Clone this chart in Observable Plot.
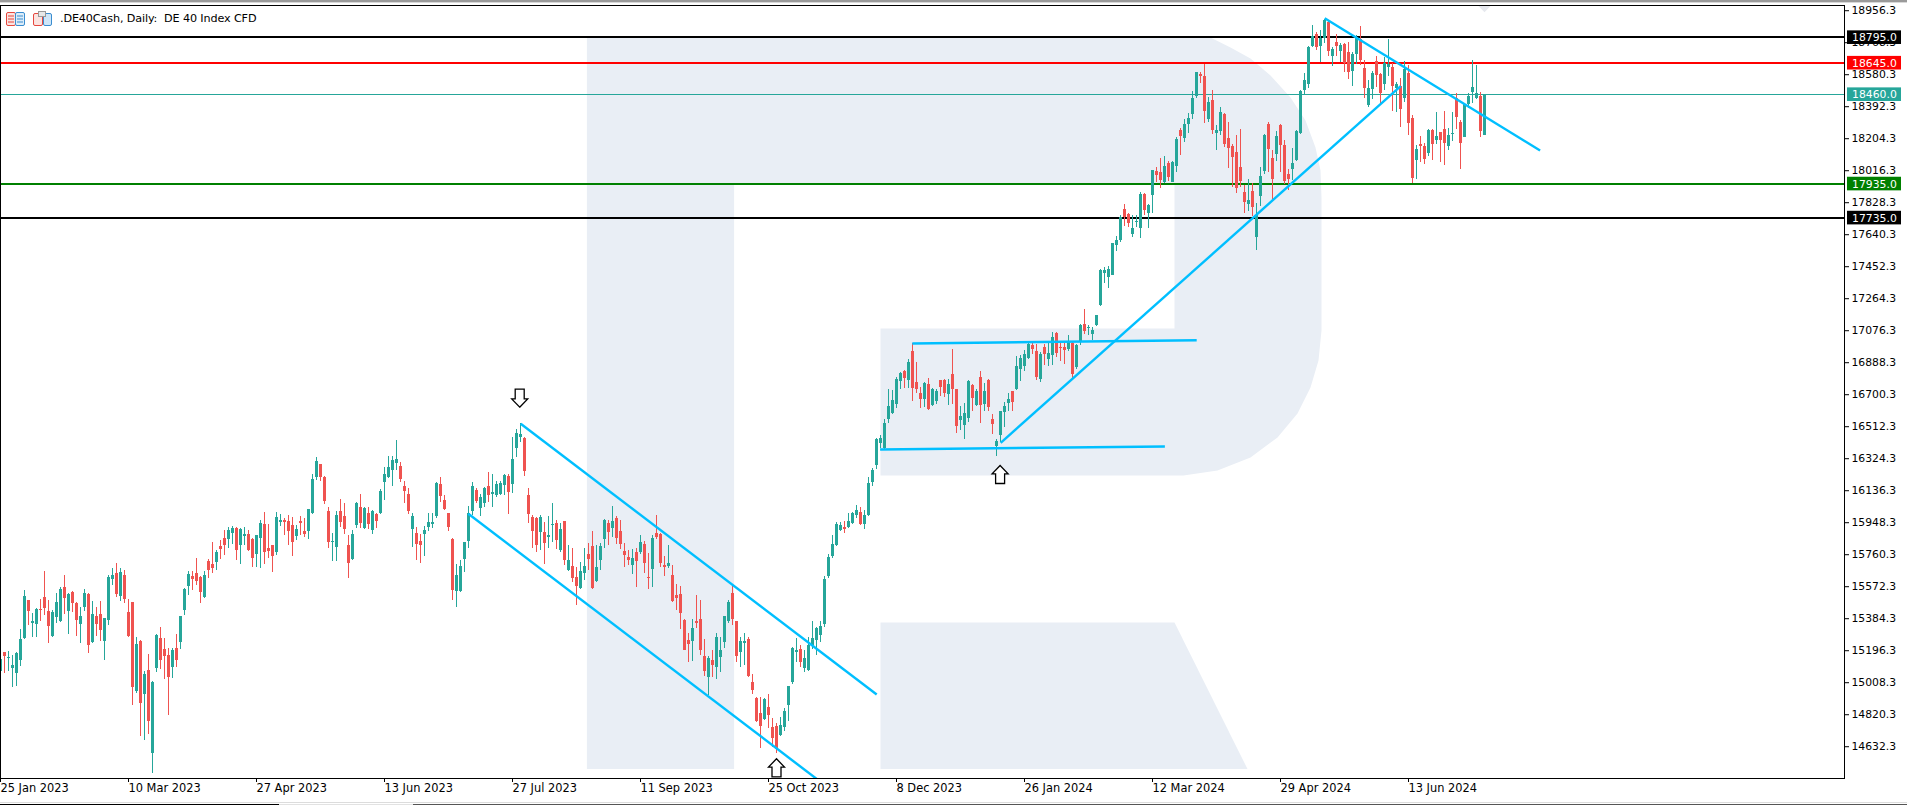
<!DOCTYPE html>
<html><head><meta charset="utf-8">
<script src="https://cdn.jsdelivr.net/npm/d3@7"></script>
<script src="https://cdn.jsdelivr.net/npm/@observablehq/plot@0.6"></script>
<style>
html,body{margin:0;padding:0;background:#fff;width:1907px;height:805px;overflow:hidden}
#chart{position:absolute;left:0;top:0}
svg{display:block}
.abs{position:absolute}
#title{left:60px;top:12px;font:11.2px "DejaVu Sans",sans-serif;color:#000;white-space:pre;line-height:14px;letter-spacing:-.13px}
</style></head><body>
<div id="chart"></div>
<div class="abs" style="left:0;top:0;width:1907px;height:2px;background:#9a9a9a"></div>
<div class="abs" style="left:0;top:2px;width:1907px;height:1px;background:#d8d8d8"></div>
<div class="abs" style="left:0;top:802px;width:1907px;height:1px;background:#dcdcdc"></div>
<div class="abs" style="left:0;top:804px;width:279px;height:1px;background:#000"></div>
<div class="abs" style="left:279px;top:804px;width:134px;height:1px;background:#e2e2e2"></div>
<div class="abs" style="left:413px;top:804px;width:1494px;height:1px;background:#555"></div>
<svg class="abs" style="left:0;top:0" width="60" height="30">
  <rect x="6.5" y="12.5" width="9" height="13" rx="1.5" fill="#fbe3e0" stroke="#e5483f"/>
  <rect x="15.5" y="12.5" width="9" height="13" rx="1.5" fill="#dcecf8" stroke="#3a8dd0"/>
  <path d="M8 16h6M8 19h6M8 22h6" stroke="#e5483f"/><path d="M17 16h6M17 19h6M17 22h6" stroke="#3a8dd0"/>
  <rect x="33.5" y="13.5" width="9" height="12" rx="1.5" fill="#fbe3e0" stroke="#e5483f"/>
  <rect x="43.5" y="13.5" width="8" height="12" rx="1.5" fill="#cfe6f8" stroke="#3a8dd0"/>
  <rect x="38.5" y="11.5" width="7" height="5" fill="#e8e8e8" stroke="#999"/>
</svg>
<div id="title" class="abs">.DE40Cash, Daily:  DE 40 Index CFD</div>
<script>
const high=[15142,15185,15189,15165,15181,15318,15547,15488,15410,15441,15494,15659,15488,15429,15529,15565,15635,15529,15541,15476,15447,15553,15529,15482,15447,15482,15382,15635,15674,15706,15676,15664,15494,15476,15271,15253,15071,15171,15012,15288,15330,15265,15206,15206,15288,15394,15559,15659,15659,15735,15629,15659,15729,15829,15782,15841,15899,15917,15923,15917,15911,15917,15899,15852,15870,15958,16005,15935,15811,16005,15993,15970,15988,15976,15929,15982,15970,16023,16228,16328,16287,16217,16034,15881,16011,16081,16058,15870,15899,16064,16111,16034,16034,16017,15999,16140,16269,16334,16334,16428,16299,16187,16146,15999,15917,15876,15923,15999,15999,16181,16211,16105,15999,15852,15700,15723,15829,16040,16181,16146,16111,16152,16240,16228,16187,16188,16229,16229,16444,16493,16526,16444,16147,15988,15976,15988,15947,15982,16059,15959,15941,15953,15812,15794,15683,15712,15794,15824,15894,15812,15822,15965,15959,16041,15982,15959,15824,15782,15788,15794,15871,15835,15765,15871,15988,15882,15747,15812,15694,15583,15571,15377,15295,15377,15518,15489,15260,15160,15195,15295,15271,15395,15489,15571,15365,15271,15295,15271,15054,14919,14919,14913,14937,14796,14766,14801,14854,14984,15213,15266,15224,15195,15271,15365,15330,15365,15630,15759,15871,15947,15947,15953,15999,16006,16047,16035,16017,16211,16264,16440,16458,16552,16728,16722,16799,16828,16840,16905,16999,16887,16740,16769,16793,16734,16728,16781,16787,16787,16963,16728,16628,16646,16781,16758,16728,16834,16764,16787,16581,16435,16599,16652,16705,16717,16922,16928,16957,17010,17004,16993,16946,16993,17004,17063,17063,17010,16999,17046,17004,16993,17110,17198,17104,17092,17163,17433,17445,17451,17586,17627,17750,17815,17762,17750,17750,17885,17879,17815,18014,18032,18085,18096,18067,18067,18208,18261,18314,18349,18478,18590,18590,18637,18443,18484,18279,18384,18349,18296,18167,18220,18255,17926,17961,17938,17820,18032,18226,18296,18132,18244,18285,18191,18020,18144,18249,18484,18584,18743,18866,18825,18837,18901,18896,18737,18813,18760,18760,18766,18708,18807,18860,18661,18543,18596,18684,18584,18680,18784,18641,18531,18555,18655,18631,18338,18161,18214,18173,18255,18255,18355,18238,18361,18261,18355,18467,18308,18408,18467,18661,18631,18473,18457];
const bodyTop=[15142,15181,15153,15106,15177,15259,15512,15488,15365,15435,15435,15506,15424,15418,15476,15553,15565,15523,15535,15471,15394,15529,15523,15406,15394,15406,15382,15623,15635,15647,15653,15635,15418,15476,15230,15247,15054,15077,15007,15283,15265,15200,15165,15194,15206,15394,15553,15641,15629,15647,15623,15635,15717,15700,15770,15805,15852,15899,15911,15911,15905,15876,15876,15847,15870,15941,15935,15794,15811,15976,15958,15958,15952,15929,15905,15952,15894,16023,16199,16305,16287,16211,16011,15833,15988,16011,15982,15811,15876,16058,16034,16029,15999,16011,15995,16128,16228,16269,16311,16316,16275,16158,16111,15982,15882,15835,15899,15946,15946,16175,16170,16076,15999,15847,15635,15688,15829,15999,16158,16134,16093,16146,16158,16123,16170,16176,16223,16217,16317,16470,16462,16440,16106,15976,15970,15976,15888,15871,15935,15941,15906,15953,15724,15688,15624,15659,15688,15759,15806,15683,15806,15959,15941,15953,15970,15894,15777,15741,15735,15771,15827,15818,15624,15853,15882,15876,15694,15706,15636,15518,15524,15371,15254,15324,15365,15377,15160,15148,15136,15271,15195,15395,15477,15530,15365,15248,15248,15260,15007,14913,14825,14907,14860,14743,14749,14754,14837,14984,15207,15195,15201,15148,15224,15266,15324,15336,15612,15741,15818,15935,15929,15917,15953,15999,16017,16006,15988,16176,16252,16435,16440,16529,16628,16664,16787,16822,16834,16887,16952,16769,16705,16764,16758,16728,16717,16781,16781,16758,16816,16728,16570,16587,16775,16752,16717,16799,16717,16781,16552,16423,16599,16628,16670,16717,16863,16910,16934,16993,16987,16952,16934,16975,16940,17034,17057,16975,16975,17004,16999,16987,17104,17110,17092,17075,17163,17427,17427,17433,17586,17604,17738,17786,17756,17673,17715,17873,17873,17809,18014,18008,18002,18038,18055,18061,18196,18249,18284,18320,18437,18590,18578,18566,18414,18425,18249,18355,18343,18202,18155,18120,18032,17885,17838,17891,17750,17979,18220,18285,18085,18214,18279,18161,17991,18056,18244,18478,18543,18739,18802,18813,18790,18896,18884,18725,18766,18749,18755,18708,18696,18796,18784,18614,18496,18584,18655,18578,18643,18637,18619,18520,18508,18608,18584,18320,18138,18167,18155,18249,18249,18214,18238,18255,18220,18232,18437,18296,18402,18449,18502,18467,18449,18457];
const bodyBottom=[15073,15159,15149,15089,15061,15136,15265,15426,15353,15349,15431,15443,15337,15277,15388,15365,15500,15426,15473,15371,15347,15447,15224,15240,15347,15312,15247,15371,15612,15523,15512,15494,15277,14977,14954,14883,14936,14777,14589,15089,15136,15159,15036,15095,15136,15242,15429,15570,15612,15600,15535,15506,15664,15676,15711,15788,15811,15847,15882,15782,15811,15864,15782,15735,15758,15852,15770,15776,15747,15770,15946,15946,15894,15829,15864,15941,15876,15894,15999,16211,16211,16070,15829,15829,15800,15946,15905,15706,15729,15929,15941,15911,15935,15899,15952,15999,16181,16211,16252,16293,16199,16128,16011,15905,15817,15811,15876,15917,15935,15982,16099,16023,15917,15547,15541,15541,15729,15835,16011,16070,16029,16058,16105,16111,16105,16111,16164,16123,16170,16382,16448,16246,15992,15894,15812,15888,15824,15861,15929,15841,15782,15724,15665,15618,15571,15559,15647,15730,15559,15600,15724,15847,15888,15912,15853,15818,15753,15724,15694,15718,15771,15706,15618,15671,15859,15706,15683,15688,15483,15500,15412,15195,15230,15248,15354,15195,15072,15036,15107,15095,15154,15242,15365,15377,15160,15183,15236,15042,14960,14778,14747,14790,14813,14678,14614,14696,14743,14872,15007,15183,15125,15089,15078,15224,15254,15283,15348,15630,15747,15812,15900,15906,15917,15941,15988,15935,15935,15988,16182,16282,16411,16382,16552,16587,16640,16775,16793,16781,16734,16728,16670,16670,16611,16634,16658,16740,16705,16699,16728,16511,16546,16517,16558,16675,16634,16634,16640,16623,16523,16393,16458,16593,16646,16652,16728,16846,16863,16910,16963,16799,16787,16934,16905,16928,16940,16969,16957,16963,16816,16858,17010,17069,17087,17051,17104,17222,17410,17386,17398,17574,17603,17740,17705,17638,17711,17673,17779,17762,17867,17985,17955,17944,17973,17944,18038,18214,18202,18284,18343,18449,18566,18361,18314,18249,18232,18243,18167,18143,18091,17908,17950,17826,17815,17797,17621,17862,18009,18138,17962,18108,18161,17950,17962,18020,18073,18232,18484,18520,18743,18737,18743,18790,18713,18684,18743,18713,18643,18590,18596,18696,18661,18496,18396,18490,18572,18467,18520,18619,18508,18496,18373,18437,18291,17967,18073,18155,18079,18114,18167,18191,18191,18173,18155,18228,18326,18173,18208,18402,18473,18437,18244,18220];
const low=[15060,15061,15073,14979,14985,15102,15257,15341,15271,15271,15365,15400,15236,15271,15353,15359,15406,15288,15418,15277,15236,15424,15177,15236,15277,15247,15136,15341,15576,15506,15482,15471,15271,14871,14942,14689,14666,14701,14472,15065,15083,15024,14813,15030,15095,15200,15400,15518,15547,15576,15471,15500,15617,15647,15664,15729,15753,15794,15817,15723,15700,15811,15776,15682,15682,15676,15700,15735,15653,15753,15923,15870,15811,15747,15841,15870,15858,15847,15993,16193,16187,16052,15794,15717,15717,15917,15876,15617,15723,15911,15911,15905,15905,15876,15911,15993,16076,16205,16158,16252,16181,16058,15993,15800,15723,15706,15747,15894,15911,15970,16064,16017,15894,15488,15447,15535,15653,15794,15988,16058,15982,16034,16064,16034,16093,16106,16106,15994,16117,16327,16417,16217,15941,15794,15771,15782,15700,15794,15829,15788,15771,15694,15659,15594,15459,15553,15606,15665,15553,15596,15665,15794,15812,15859,15818,15788,15683,15694,15641,15565,15759,15647,15553,15565,15847,15683,15630,15677,15477,15430,15318,15195,15125,15130,15324,15166,15042,14931,15036,15025,15066,15207,15354,15342,15125,15095,15107,15036,14937,14772,14619,14784,14737,14625,14588,14690,14719,14778,14995,15125,15095,15066,15072,15201,15166,15242,15330,15618,15735,15806,15894,15882,15912,15935,15970,15929,15906,15982,16159,16258,16382,16376,16529,16581,16617,16728,16734,16734,16658,16705,16617,16623,16605,16628,16640,16687,16681,16634,16640,16470,16487,16435,16534,16599,16628,16529,16599,16599,16464,16335,16417,16505,16599,16599,16722,16775,16834,16905,16934,16781,16769,16869,16863,16869,16916,16893,16875,16952,16793,16846,16987,17051,17046,17016,17098,17216,17351,17322,17398,17539,17593,17686,17681,17622,17681,17615,17750,17673,17762,17944,17908,17938,17950,17944,18002,18102,18179,18232,18314,18437,18525,18290,18296,18226,18132,18220,18149,18026,17914,17879,17914,17762,17773,17744,17544,17803,17991,18003,17844,18067,18003,17932,17897,17956,18067,18226,18461,18496,18737,18719,18649,18760,18684,18625,18684,18649,18590,18549,18508,18637,18631,18437,18384,18431,18502,18402,18484,18567,18361,18355,18267,18414,18220,17938,17962,18061,18050,18097,18073,18167,18061,18044,18132,18185,18255,18020,18208,18379,18408,18431,18208,18220];
const direction=("GRGGGGGRGG RRRGGGRGRR GGRGRRGGGR GRRRGRGRGG RRRGRGGGRR RGRRGRRGGR GGRRGGRRRG GRRRGRRGGG RRRGGRRRGG RGRGRGGGGG RRRGRRGGGG RRRRGGGGGR GGRGGGGRGG GRRRRGRGGR GRGRRGGRRG GGRGRRRRGR GRRGRRRGRR RRRGRRRGRG GGGRRGGRRR RGRRRGGGGG RGGGGGGGGG GRGGGRGGGG GGGGGGRGRR RGRGGRRGRR GGGRGRGRRG GGGRGGGGRR GRGGRRRGRG GRGGGGGGGG GRRGGGRGGR RGRGGRGGGG RRGRGGRRRR RRGRGGGRRG RRRGGGGGGR GGRGRGRRGG RRGGRRGGRG RGRRGRRGRG RRGGRRGGGG RG").replace(/ /g,"");

const dateLabels=["25 Jan 2023","10 Mar 2023","27 Apr 2023","13 Jun 2023","27 Jul 2023","11 Sep 2023","25 Oct 2023","8 Dec 2023","26 Jan 2024","12 Mar 2024","29 Apr 2024","13 Jun 2024"];
const dateBars=[0,32,64,96,128,160,192,224,256,288,320,352];
const priceTicks=[18956.3,18768.3,18580.3,18392.3,18204.3,18016.3,17828.3,17640.3,17452.3,17264.3,17076.3,16888.3,16700.3,16512.3,16324.3,16136.3,15948.3,15760.3,15572.3,15384.3,15196.3,15008.3,14820.3,14632.3];

const levelPrices=[18795,18645,18460,17935,17735];
const levelColors=["#000000","#ff0000","#26a69a","#008000","#000000"];
const levelWidths=[2,2,1,2,2];

const trendStartBar=[130.05,116.95,227.95,219.9,250.05,331.05];
const trendStartPrice=[16526.5,15997.8,16998.3,16375.5,16414.9,18909.4];
const trendEndBar=[219.05,219.05,299.05,291.1,350.05,384.9];
const trendEndPrice=[14936.1,14171.8,17017.7,16393.1,18509.9,18132.1];

const arrowBars=[129.8,194,249.9];
const arrowPrices=[16677,14505.5,16228.6];
const arrowKinds=["down","up","up"];

const markBars=[146.6,298.25,302.5,307.5,312.5,317.5,322.5,326.25,328.75,330,330.25,330.25,329.5,327.5,324.25,319.25,312.5,304.25,295.75,220,220,293.5,293.5,183.4,183.4,146.6];
const markPrices=[18802,18802,18796,18737,18673,18573,18443,18308,18150,18015,17856,17075,16898,16740,16587,16446,16329,16252,16223,16223,17086,17086,17938,17938,14498,14498];
const legBars=[220,293.5,311.75,220];
const legPrices=[15359,15359,14498,14498];
const notchBars=[369.5,372.5,371];
const notchPrices=[18981,18981,18945];

const TEAL="#26a69a",RED="#ef5350";
const bars=high.map((h,i)=>({i,h,l:low[i],t:bodyTop[i],b:bodyBottom[i],c:direction[i]==="G"?TEAL:RED}));
const levels=levelPrices.map((p,i)=>({p,c:levelColors[i],w:levelWidths[i]}));
const trend=trendStartBar.map((x,i)=>({x1:x,y1:trendStartPrice[i],x2:trendEndBar[i],y2:trendEndPrice[i]}));
const arrows=arrowBars.map((x,i)=>({x,y:arrowPrices[i],k:arrowKinds[i]}));
const pts=(xs,ys)=>xs.map((x,i)=>({x,y:ys[i]}));
const WM="#e9eef5";
const upArrow={draw(c){c.moveTo(0,-9);c.lineTo(8,-.7);c.lineTo(4.5,-.7);c.lineTo(4.5,9);c.lineTo(-4.5,9);c.lineTo(-4.5,-.7);c.lineTo(-8,-.7);c.closePath();}};
const downArrow={draw(c){c.moveTo(0,9);c.lineTo(8,.7);c.lineTo(4.5,.7);c.lineTo(4.5,-9);c.lineTo(-4.5,-9);c.lineTo(-4.5,.7);c.lineTo(-8,.7);c.closePath();}};
const FS=10.8,FD=11.4,FF="DejaVu Sans";
const labelStart=461.75,labelEnd=475.25,labelText=462.9,labelHalf=40;

const chart=Plot.plot({
  width:1907,height:805,
  marginLeft:0,marginRight:63,marginTop:5,marginBottom:27,
  style:{fontFamily:FF,background:"#fff",color:"#000",overflow:"visible"},
  x:{domain:[0,461],axis:null},
  y:{domain:[14442.65,18984],axis:null},
  color:{type:"identity"},
  marks:[
    Plot.line(pts(markBars,markPrices),{x:"x",y:"y",fill:WM,stroke:"none"}),
    Plot.line(pts(legBars,legPrices),{x:"x",y:"y",fill:WM,stroke:"none"}),
    Plot.line(pts(notchBars,notchPrices),{x:"x",y:"y",fill:"#e6e8ee",stroke:"none"}),
    Plot.axisY({anchor:"right",ticks:priceTicks,tickFormat:d=>d.toFixed(1),tickSize:4,tickPadding:3,fontSize:FS,stroke:"#000",strokeOpacity:1,dy:0.5}),
    Plot.axisX({anchor:"bottom",ticks:dateBars,tickFormat:d=>dateLabels[dateBars.indexOf(d)],tickSize:4,tickPadding:1,fontSize:FD,textAnchor:"start",stroke:"#000",strokeOpacity:1}),
    Plot.ruleY(levels,{y:"p",stroke:"c",strokeWidth:"w",dy:-0.5,shapeRendering:"crispEdges"}),
    Plot.ruleX(bars,{x:"i",y1:"l",y2:"h",stroke:"c",strokeWidth:1,clip:true,shapeRendering:"crispEdges"}),
    Plot.rect(bars,{x1:d=>d.i-0.25,x2:d=>d.i+0.5,y1:"b",y2:"t",fill:"c",clip:true,shapeRendering:"crispEdges"}),
    Plot.link(trend,{x1:"x1",y1:"y1",x2:"x2",y2:"y2",stroke:"#00bfff",strokeWidth:2.4,clip:true}),
    Plot.dot(arrows.filter(d=>d.k==="down"),{x:"x",y:"y",r:8,symbol:downArrow,fill:"#fff",stroke:"#000",strokeWidth:1.3}),
    Plot.dot(arrows.filter(d=>d.k==="up"),{x:"x",y:"y",r:8,symbol:upArrow,fill:"#fff",stroke:"#000",strokeWidth:1.3}),
    Plot.rect(levels,{x1:()=>labelStart,x2:()=>labelEnd,y1:d=>d.p-labelHalf,y2:d=>d.p+labelHalf,fill:"c"}),
    Plot.text(levels,{x:()=>labelText,y:"p",text:d=>d.p.toFixed(1),fill:"#fff",textAnchor:"start",fontSize:FS}),
    Plot.frame({stroke:"#000",strokeWidth:1})
  ]
});
document.getElementById("chart").appendChild(chart);
</script>
</body></html>
